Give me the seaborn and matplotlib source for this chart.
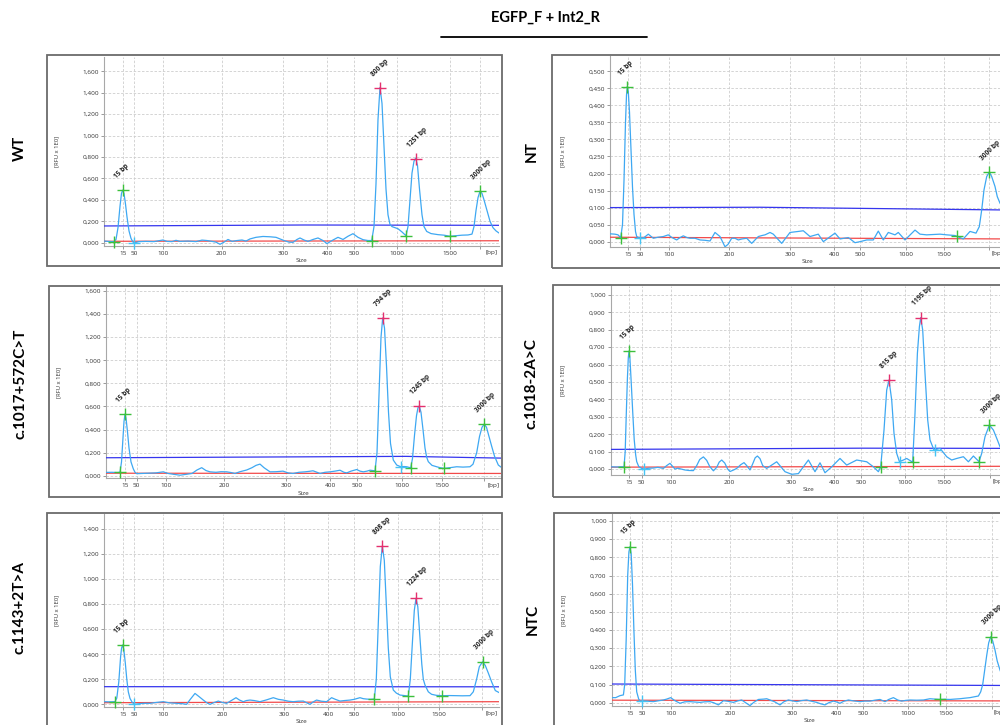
import matplotlib
matplotlib.use("Agg")
import matplotlib.pyplot as plt
import matplotlib.ticker as mticker
from matplotlib.patches import Rectangle
from matplotlib.lines import Line2D
import pandas as pd
import seaborn as sns

sns.set_theme(style="white")
plt.rcParams["font.family"] = ["Open Sans", "DejaVu Sans"]

TITLE = "EGFP_F + Int2_R"
LADDER_LABELS = ["15", "50", "100", "200", "300", "400", "500", "1000", "1500", ""]

# ---------------- WT ----------------
wt_ladder = [18.7, 30.3, 59.3, 117.7, 179, 223, 250, 293, 346, 376]
wt_pos = [0, 4, 8, 10, 12, 14, 16, 17.5, 18.7, 20, 21.5, 23, 25, 27, 29, 31, 35, 42, 50, 56, 59, 63, 68, 72, 76, 84, 92, 98, 103, 108, 112, 116, 120, 124, 128, 133, 138, 142, 146, 152, 159, 166, 172, 180, 185, 189, 193, 196, 200, 204, 209, 214, 219, 223, 228, 234, 239, 244, 249, 254, 259, 264, 267.7, 270, 272, 274, 276, 278, 280, 282, 284, 286, 288, 291, 294, 298, 302, 304, 306, 308, 310, 311.7, 313.5, 315.5, 318, 320, 322.7, 327, 334, 340, 346, 352, 358, 364, 368, 370, 372, 374, 376, 378, 380, 383, 386, 389, 392, 395]
wt_rfu = [0.015, 0.012, 0.01, 0.01, 0.03, 0.14, 0.34, 0.46, 0.49, 0.46, 0.36, 0.24, 0.11, 0.04, 0.005, 0.0, 0.01, 0.012, 0.01, 0.02, 0.025, 0.012, 0.01, 0.022, 0.012, 0.015, 0.01, 0.024, 0.02, 0.012, 0.005, -0.015, 0.005, 0.03, 0.012, 0.02, 0.025, 0.015, 0.035, 0.05, 0.058, 0.055, 0.05, 0.02, 0.005, 0.003, 0.03, 0.044, 0.025, 0.012, 0.03, 0.044, 0.02, -0.009, 0.02, 0.05, 0.03, 0.06, 0.084, 0.05, 0.028, 0.02, 0.02, 0.15, 0.55, 1.15, 1.45, 1.3, 0.9, 0.5, 0.26, 0.17, 0.15, 0.14, 0.13, 0.1, 0.065, 0.15, 0.4, 0.65, 0.76, 0.79, 0.72, 0.5, 0.26, 0.15, 0.105, 0.085, 0.075, 0.07, 0.06, 0.065, 0.07, 0.072, 0.08, 0.15, 0.3, 0.42, 0.48, 0.46, 0.4, 0.3, 0.2, 0.14, 0.11, 0.09]
wt_peak_pos = [18.7, 276, 311.7, 376]
wt_peak_rfu = [0.49, 1.44, 0.78, 0.48]
wt_peak_bp = [15, 800, 1251, 3000]
wt_peak_kind = ["ref", "sample", "sample", "ref"]
wt_edge_pos = [10, 267.7, 302, 346]
wt_edge_rfu = [0.01, 0.02, 0.065, 0.06]
wt_alt_pos = [30.3]
wt_alt_rfu = [0.0]
wt_thr_pos = [0, 200, 395]
wt_thr_rfu = [0.156, 0.165, 0.162]
wt_base_pos = [0, 395]
wt_base_rfu = [0.013, 0.018]

# ---------------- NT ----------------
nt_ladder = [17.7, 30, 59, 119, 180, 224, 250, 296, 334, 379]
nt_pos = [0, 5, 8, 10.7, 12.5, 14, 15.5, 16.5, 17.3, 18.3, 19.5, 21, 22.5, 24, 25.5, 26.7, 30, 34, 38.3, 43.3, 48, 53.3, 58.3, 62, 66.7, 70, 73.3, 77, 80, 85, 90, 95, 100, 105, 110, 115, 118, 121.7, 125, 128.3, 132, 136.7, 141.7, 145, 148.3, 152, 155, 160, 163.3, 171.7, 180, 188.3, 193.3, 200, 208.3, 213.3, 225, 230, 238.3, 245, 250, 256.7, 263.3, 268.3, 273.3, 278.3, 285, 288.3, 295, 305, 310, 316.7, 330, 336.7, 345, 353.3, 360, 366, 369.3, 371.7, 374, 376.7, 379.3, 381.7, 385, 387.3, 390, 393, 396]
nt_rfu = [0.023, 0.022, 0.02, 0.012, 0.05, 0.18, 0.35, 0.43, 0.456, 0.44, 0.38, 0.27, 0.16, 0.08, 0.03, 0.015, 0.01, 0.012, 0.022, 0.01, 0.013, 0.015, 0.02, 0.012, 0.005, 0.012, 0.017, 0.012, 0.01, 0.01, 0.005, 0.004, 0.002, 0.027, 0.015, -0.015, -0.008, 0.01, 0.01, 0.005, 0.008, 0.01, -0.005, 0.005, 0.015, 0.018, 0.02, 0.027, 0.022, -0.005, 0.027, 0.03, 0.032, 0.015, 0.022, 0.0, 0.025, 0.008, 0.012, -0.003, 0.0, 0.005, 0.005, 0.031, 0.005, 0.027, 0.02, 0.027, 0.005, 0.034, 0.022, 0.02, 0.022, 0.02, 0.018, 0.008, 0.03, 0.025, 0.044, 0.093, 0.152, 0.191, 0.204, 0.191, 0.162, 0.132, 0.113, 0.1, 0.09]
nt_peak_pos = [17.3, 379.3]
nt_peak_rfu = [0.453, 0.204]
nt_peak_bp = [15, 3000]
nt_peak_kind = ["ref", "ref"]
nt_edge_pos = [10.7, 346.7]
nt_edge_rfu = [0.012, 0.017]
nt_alt_pos = [30]
nt_alt_rfu = [0.01]
nt_thr_pos = [0, 150, 395]
nt_thr_rfu = [0.1, 0.101, 0.093]
nt_base_pos = [0, 395]
nt_base_rfu = [0.013, 0.008]

# ---------------- c.1017+572C>T ----------------
m1_ladder = [19, 30.7, 59.7, 118, 180, 224, 250.7, 295.7, 335.7, 378.3]
m1_pos = [0, 6, 11, 14, 15.5, 17, 18, 19, 20, 21.5, 23, 25, 27.3, 29, 30.7, 36, 42, 50, 57.3, 62, 68, 74, 80, 86, 91, 95.7, 100, 104, 110, 115, 120.7, 125, 129, 134, 140.7, 146, 150, 154, 158, 164, 170, 177, 182, 187, 193, 199, 203, 207, 211, 214, 219, 224, 229, 234, 238, 240.7, 245, 250.7, 254, 257.3, 261, 264, 269, 271, 273, 275, 276.7, 278.5, 280.5, 282.5, 284.5, 287.3, 290.7, 294.7, 298, 300.7, 304.7, 306.5, 308.5, 310.5, 312, 313.3, 315, 317, 319, 320.7, 322.3, 326, 330.7, 334, 338, 344, 350.7, 357, 364, 367, 370.7, 373.5, 376, 378.3, 380.5, 383, 385.7, 388.5, 392.3, 395]
m1_rfu = [0.029, 0.03, 0.028, 0.03, 0.12, 0.33, 0.47, 0.534, 0.5, 0.38, 0.24, 0.12, 0.06, 0.03, 0.018, 0.02, 0.022, 0.025, 0.034, 0.02, 0.012, 0.005, 0.012, 0.02, 0.05, 0.07, 0.045, 0.034, 0.03, 0.035, 0.034, 0.028, 0.02, 0.035, 0.05, 0.07, 0.09, 0.101, 0.07, 0.034, 0.035, 0.04, 0.025, 0.02, 0.03, 0.034, 0.038, 0.043, 0.03, 0.02, 0.03, 0.034, 0.04, 0.048, 0.03, 0.025, 0.04, 0.054, 0.04, 0.034, 0.04, 0.048, 0.043, 0.2, 0.7, 1.2, 1.367, 1.28, 0.95, 0.55, 0.28, 0.136, 0.093, 0.078, 0.08, 0.078, 0.069, 0.15, 0.35, 0.52, 0.59, 0.603, 0.55, 0.4, 0.24, 0.16, 0.122, 0.09, 0.078, 0.07, 0.064, 0.07, 0.078, 0.075, 0.078, 0.1, 0.2, 0.34, 0.42, 0.447, 0.42, 0.34, 0.255, 0.17, 0.093, 0.075]
m1_peak_pos = [19, 276.7, 313.3, 378.3]
m1_peak_rfu = [0.534, 1.367, 0.603, 0.447]
m1_peak_bp = [15, 794, 1245, 3000]
m1_peak_kind = ["ref", "sample", "sample", "ref"]
m1_edge_pos = [14, 269, 304.7, 338]
m1_edge_rfu = [0.03, 0.043, 0.069, 0.064]
m1_alt_pos = [294.7]
m1_alt_rfu = [0.078]
m1_thr_pos = [0, 300, 395]
m1_thr_rfu = [0.156, 0.168, 0.153]
m1_base_pos = [0, 395]
m1_base_rfu = [0.022, 0.02]

# ---------------- c.1018-2A>C ----------------
m2_ladder = [18.3, 31, 60, 118.3, 180.3, 223.3, 250.3, 294.3, 333.6, 379.3]
m2_pos = [0, 6, 10, 13.3, 14.5, 15.5, 16.7, 17.6, 18.3, 19.2, 20.5, 22, 23.5, 25, 26, 28, 31, 33.7, 38, 42.7, 47, 52.7, 56, 59.3, 62, 64.3, 67, 69.3, 74, 78, 82.7, 86, 89, 92.7, 96, 99, 102.7, 106, 108.5, 111, 114, 117, 119.3, 123, 126, 130, 133.3, 136, 139.3, 142, 144.5, 146.7, 149.3, 152, 156, 166, 174.3, 181, 187.7, 197.7, 204.3, 209.3, 214.3, 221, 229.3, 236, 246, 256, 262.7, 267.7, 270, 273.3, 276, 278.3, 281, 283.3, 286, 288.7, 292.7, 296, 301, 302, 304.3, 306.7, 308.7, 310, 312, 314.3, 317, 319.3, 323.3, 329.3, 336, 341, 346, 352.7, 357.7, 362.7, 368.3, 371, 374.3, 378.7, 382.7, 386.7, 389.3, 393, 396]
m2_rfu = [0.013, 0.012, 0.013, 0.013, 0.1, 0.3, 0.52, 0.64, 0.678, 0.64, 0.5, 0.33, 0.17, 0.08, 0.043, 0.015, 0.004, 0.0, 0.005, 0.006, 0.01, 0.004, 0.02, 0.033, 0.015, 0.0, 0.005, 0.002, -0.005, -0.008, -0.009, 0.02, 0.055, 0.07, 0.05, 0.015, -0.01, 0.01, 0.04, 0.052, 0.035, 0.0, -0.014, -0.005, 0.004, 0.025, 0.037, 0.02, -0.005, 0.03, 0.065, 0.075, 0.06, 0.02, 0.004, 0.042, -0.015, -0.03, -0.026, 0.052, -0.015, 0.036, -0.021, 0.013, 0.061, 0.023, 0.052, 0.042, 0.013, -0.015, 0.013, 0.224, 0.454, 0.511, 0.397, 0.205, 0.09, 0.043, 0.052, 0.061, 0.043, 0.043, 0.32, 0.665, 0.818, 0.87, 0.799, 0.55, 0.282, 0.167, 0.109, 0.119, 0.071, 0.052, 0.061, 0.071, 0.042, 0.075, 0.043, 0.09, 0.186, 0.253, 0.224, 0.167, 0.128, 0.1, 0.085]
m2_peak_pos = [18.3, 278.3, 310, 378.7]
m2_peak_rfu = [0.678, 0.511, 0.87, 0.253]
m2_peak_bp = [15, 815, 1195, 3000]
m2_peak_kind = ["ref", "sample", "sample", "ref"]
m2_edge_pos = [13.3, 270, 302, 368.3]
m2_edge_rfu = [0.013, 0.013, 0.043, 0.043]
m2_alt_pos = [33.7, 289.3, 324.3]
m2_alt_rfu = [0.0, 0.043, 0.109]
m2_thr_pos = [0, 250, 395]
m2_thr_rfu = [0.113, 0.12, 0.119]
m2_base_pos = [0, 395]
m2_base_rfu = [0.011, 0.016]

# ---------------- c.1143+2T>A ----------------
m3_ladder = [18.4, 30, 59, 118.4, 180, 224, 250, 294, 335, 378]
m3_pos = [0, 5, 10.7, 12.5, 14.5, 16.3, 17.3, 18.3, 19.5, 21, 22.5, 24, 25.7, 28, 30.7, 35, 40, 45.7, 52, 59, 65, 72.3, 78, 82.3, 86, 90.7, 95, 99, 103, 105.7, 110, 114, 118, 122.3, 127, 131.7, 135, 139, 142, 145.7, 150, 155.7, 162, 169, 174, 179, 184, 189, 194, 199, 203, 205.7, 209, 212.3, 217, 222.3, 227.3, 231, 235.7, 240, 245.7, 250, 255.7, 259, 262.3, 266, 270, 272, 274, 276, 278, 280, 282, 284, 286, 289, 292, 295.7, 300, 304, 306, 308, 310, 311.7, 313.5, 315.5, 317.5, 319, 320.7, 324, 327.3, 332, 338, 345, 352.3, 358, 365.7, 369, 372.3, 375, 378.3, 381, 384, 387.3, 391, 395.7]
m3_rfu = [0.021, 0.02, 0.021, 0.05, 0.18, 0.38, 0.45, 0.474, 0.44, 0.33, 0.2, 0.1, 0.047, 0.015, 0.0, 0.005, 0.008, 0.008, 0.015, 0.021, 0.012, 0.008, 0.005, 0.0, 0.04, 0.087, 0.06, 0.034, 0.01, 0.0, 0.015, 0.026, 0.015, 0.008, 0.03, 0.053, 0.035, 0.021, 0.03, 0.034, 0.03, 0.021, 0.035, 0.053, 0.04, 0.034, 0.025, 0.021, 0.025, 0.026, 0.01, 0.0, 0.02, 0.034, 0.025, 0.021, 0.053, 0.04, 0.026, 0.03, 0.034, 0.04, 0.053, 0.045, 0.042, 0.04, 0.042, 0.2, 0.65, 1.1, 1.264, 1.15, 0.8, 0.45, 0.22, 0.114, 0.09, 0.074, 0.07, 0.066, 0.2, 0.48, 0.75, 0.847, 0.78, 0.55, 0.32, 0.2, 0.154, 0.1, 0.08, 0.072, 0.069, 0.07, 0.069, 0.068, 0.069, 0.1, 0.2, 0.3, 0.34, 0.31, 0.25, 0.18, 0.11, 0.09]
m3_peak_pos = [18.3, 278, 311.7, 378.3]
m3_peak_rfu = [0.474, 1.264, 0.847, 0.34]
m3_peak_bp = [15, 808, 1224, 3000]
m3_peak_kind = ["ref", "sample", "sample", "ref"]
m3_edge_pos = [10.7, 270, 304, 338]
m3_edge_rfu = [0.021, 0.042, 0.066, 0.069]
m3_alt_pos = [30]
m3_alt_rfu = [0.0]
m3_thr_pos = [0, 395]
m3_thr_rfu = [0.141, 0.14]
m3_base_pos = [0, 395]
m3_base_rfu = [0.013, 0.021]

# ---------------- NTC ----------------
ntc_ladder = [18.3, 30.6, 59.3, 118.3, 180.6, 225, 251, 296.6, 334, 380]
ntc_pos = [0, 4, 8.3, 11.7, 13, 14.5, 16, 17.2, 18.3, 19.5, 20.8, 22.2, 23.6, 25, 27, 29, 30.7, 36, 41.7, 46, 51.7, 55, 59, 63, 68.3, 73, 78.3, 83, 88.3, 93, 98.3, 102, 106.7, 111.7, 116, 121.7, 126, 130, 134, 138.3, 142, 146.7, 152, 155, 158.3, 163, 168.3, 172, 176.7, 181, 185, 190, 195, 200, 205, 209, 213.3, 217, 221.7, 225, 228.3, 232, 236.7, 242, 248.3, 253, 258.3, 263, 268.3, 273.3, 277, 281.7, 286, 290, 294, 298.3, 305, 311.7, 318.3, 323, 328.3, 333, 338.3, 343, 348.3, 353, 358.3, 362, 366.7, 369, 371, 373, 375, 377, 379, 381, 383.3, 385.5, 388.3, 391, 394, 397]
ntc_rfu = [0.028, 0.028, 0.039, 0.043, 0.1, 0.35, 0.7, 0.83, 0.859, 0.82, 0.65, 0.4, 0.18, 0.06, 0.02, 0.006, 0.01, 0.008, 0.006, 0.01, 0.015, 0.02, 0.028, 0.012, -0.003, 0.005, 0.006, 0.004, 0.002, 0.005, 0.006, 0.0, -0.012, 0.011, 0.008, 0.002, 0.01, 0.015, 0.0, -0.016, 0.002, 0.018, 0.02, 0.022, 0.015, 0.005, -0.012, 0.005, 0.015, 0.01, 0.006, 0.012, 0.015, 0.008, 0.002, -0.006, -0.012, 0.0, 0.009, 0.004, -0.003, 0.008, 0.015, 0.01, 0.006, 0.009, 0.009, 0.014, 0.018, 0.006, 0.018, 0.028, 0.015, 0.009, 0.013, 0.015, 0.014, 0.015, 0.022, 0.02, 0.018, 0.019, 0.018, 0.02, 0.022, 0.025, 0.028, 0.032, 0.037, 0.06, 0.1, 0.18, 0.26, 0.33, 0.363, 0.34, 0.29, 0.23, 0.18, 0.14, 0.11, 0.09]
ntc_peak_pos = [18.3, 379]
ntc_peak_rfu = [0.859, 0.363]
ntc_peak_bp = [15, 3000]
ntc_peak_kind = ["ref", "ref"]
ntc_edge_pos = [328.3]
ntc_edge_rfu = [0.018]
ntc_alt_pos = [30.7]
ntc_alt_rfu = [0.01]
ntc_thr_pos = [0, 395]
ntc_thr_rfu = [0.103, 0.095]
ntc_base_pos = [0, 395]
ntc_base_rfu = [0.014, 0.01]

SAMPLES = {
    "WT": dict(ladder=wt_ladder, pos=wt_pos, rfu=wt_rfu, peak_pos=wt_peak_pos, peak_rfu=wt_peak_rfu,
               peak_bp=wt_peak_bp, peak_kind=wt_peak_kind, edge_pos=wt_edge_pos, edge_rfu=wt_edge_rfu,
               alt_pos=wt_alt_pos, alt_rfu=wt_alt_rfu, thr_pos=wt_thr_pos, thr_rfu=wt_thr_rfu,
               base_pos=wt_base_pos, base_rfu=wt_base_rfu, ymax=1.6, ystep=0.2),
    "NT": dict(ladder=nt_ladder, pos=nt_pos, rfu=nt_rfu, peak_pos=nt_peak_pos, peak_rfu=nt_peak_rfu,
               peak_bp=nt_peak_bp, peak_kind=nt_peak_kind, edge_pos=nt_edge_pos, edge_rfu=nt_edge_rfu,
               alt_pos=nt_alt_pos, alt_rfu=nt_alt_rfu, thr_pos=nt_thr_pos, thr_rfu=nt_thr_rfu,
               base_pos=nt_base_pos, base_rfu=nt_base_rfu, ymax=0.5, ystep=0.05),
    "c.1017+572C>T": dict(ladder=m1_ladder, pos=m1_pos, rfu=m1_rfu, peak_pos=m1_peak_pos, peak_rfu=m1_peak_rfu,
               peak_bp=m1_peak_bp, peak_kind=m1_peak_kind, edge_pos=m1_edge_pos, edge_rfu=m1_edge_rfu,
               alt_pos=m1_alt_pos, alt_rfu=m1_alt_rfu, thr_pos=m1_thr_pos, thr_rfu=m1_thr_rfu,
               base_pos=m1_base_pos, base_rfu=m1_base_rfu, ymax=1.6, ystep=0.2),
    "c.1018-2A>C": dict(ladder=m2_ladder, pos=m2_pos, rfu=m2_rfu, peak_pos=m2_peak_pos, peak_rfu=m2_peak_rfu,
               peak_bp=m2_peak_bp, peak_kind=m2_peak_kind, edge_pos=m2_edge_pos, edge_rfu=m2_edge_rfu,
               alt_pos=m2_alt_pos, alt_rfu=m2_alt_rfu, thr_pos=m2_thr_pos, thr_rfu=m2_thr_rfu,
               base_pos=m2_base_pos, base_rfu=m2_base_rfu, ymax=1.0, ystep=0.1),
    "c.1143+2T>A": dict(ladder=m3_ladder, pos=m3_pos, rfu=m3_rfu, peak_pos=m3_peak_pos, peak_rfu=m3_peak_rfu,
               peak_bp=m3_peak_bp, peak_kind=m3_peak_kind, edge_pos=m3_edge_pos, edge_rfu=m3_edge_rfu,
               alt_pos=m3_alt_pos, alt_rfu=m3_alt_rfu, thr_pos=m3_thr_pos, thr_rfu=m3_thr_rfu,
               base_pos=m3_base_pos, base_rfu=m3_base_rfu, ymax=1.4, ystep=0.2),
    "NTC": dict(ladder=ntc_ladder, pos=ntc_pos, rfu=ntc_rfu, peak_pos=ntc_peak_pos, peak_rfu=ntc_peak_rfu,
               peak_bp=ntc_peak_bp, peak_kind=ntc_peak_kind, edge_pos=ntc_edge_pos, edge_rfu=ntc_edge_rfu,
               alt_pos=ntc_alt_pos, alt_rfu=ntc_alt_rfu, thr_pos=ntc_thr_pos, thr_rfu=ntc_thr_rfu,
               base_pos=ntc_base_pos, base_rfu=ntc_base_rfu, ymax=1.0, ystep=0.1),
}

# Page layout in pixels: plot area (l, t, r, b), frame (l, t, r, b), y-limits, sample label centre
W, H = 1000, 725
LAYOUT = {
    "WT":            dict(ax=(104, 57, 499, 246),   box=(47, 55, 502, 266),   ylim=(-0.031, 1.733), lab=(20, 148)),
    "NT":            dict(ax=(610, 56, 1005, 246.7), box=(552, 55, 1012, 268), ylim=(-0.0148, 0.545), lab=(532, 152)),
    "c.1017+572C>T": dict(ax=(106, 287, 501, 478.3), box=(49, 286, 502, 497),  ylim=(-0.022, 1.635), lab=(21, 384)),
    "c.1018-2A>C":   dict(ax=(610.7, 285.7, 1005.7, 475), box=(553, 285, 1012, 497), ylim=(-0.034, 1.053), lab=(532, 384)),
    "c.1143+2T>A":   dict(ax=(104.3, 514.3, 499.3, 706.7), box=(47, 513, 502, 745), ylim=(-0.019, 1.518), lab=(20, 608)),
    "NTC":           dict(ax=(611.7, 514.3, 1006.7, 706), box=(554, 513, 1012, 745), ylim=(-0.018, 1.037), lab=(533, 619)),
}

TRACE = "#3ea8f2"
THRESH = "#3535ee"
BASE = "#f24a4a"
MARK = {"ref": "#3cc03c", "sample": "#e4306e", "edge": "#3cc03c", "alt": "#46c4f4"}
GRID = "#cdcdcd"
TXT = "#333333"


def comma_fmt(v, _):
    return f"{v:.3f}".replace(".", ",")


def draw_panel(fig, name, d, lay):
    l, t, r, b = lay["ax"]
    ax = fig.add_axes([l / W, 1 - b / H, (r - l) / W, (b - t) / H])
    ax.set_xlim(0, 395)
    ax.set_ylim(*lay["ylim"])
    ax.set_axisbelow(True)

    n = int(round(d["ymax"] / d["ystep"]))
    ax.set_yticks([i * d["ystep"] for i in range(n + 1)])
    ax.yaxis.set_major_formatter(mticker.FuncFormatter(comma_fmt))
    ax.set_xticks(d["ladder"])
    ax.set_xticklabels(LADDER_LABELS)
    ax.grid(True, color=GRID, linestyle=(0, (3, 2)), linewidth=0.6)

    for s in ("top", "right"):
        ax.spines[s].set_visible(False)
    for s in ("left", "bottom"):
        ax.spines[s].set_color("#a8a8a8")
        ax.spines[s].set_linewidth(0.8)
    ax.tick_params(axis="both", which="both", bottom=True, left=True, labelsize=4.6,
                   labelcolor=TXT, color="#8a8a8a", length=2.5, width=0.6, pad=1.2)

    # baseline and detection threshold
    ax.plot(d["base_pos"], d["base_rfu"], color=BASE, lw=0.9, zorder=3)
    ax.plot(d["thr_pos"], d["thr_rfu"], color=THRESH, lw=0.9, zorder=3)

    trace = pd.DataFrame({"pos": d["pos"], "rfu": d["rfu"]})
    sns.lineplot(data=trace, x="pos", y="rfu", ax=ax, color=TRACE, linewidth=0.9,
                 estimator=None, sort=False, zorder=4)

    ax.set_ylabel("[RFU x 1E0]", fontsize=4.2, color=TXT)
    ax.yaxis.set_label_coords(-45 / (r - l), 0.5)
    ax.set_xlabel("Size", fontsize=4.6, color=TXT, labelpad=1.5)
    ax.annotate("[bp]", xy=(1, 0), xycoords="axes fraction", xytext=(-1, -3.2),
                textcoords="offset points", ha="right", va="top", fontsize=4.6, color=TXT)

    ax.plot(d["edge_pos"], d["edge_rfu"], ls="none", marker="+", ms=8.5, mew=1.0,
            color=MARK["edge"], zorder=6, clip_on=False)
    ax.plot(d["alt_pos"], d["alt_rfu"], ls="none", marker="+", ms=8.5, mew=1.0,
            color=MARK["alt"], zorder=6, clip_on=False)
    for x, y, bp, kind in zip(d["peak_pos"], d["peak_rfu"], d["peak_bp"], d["peak_kind"]):
        ax.plot([x], [y], ls="none", marker="+", ms=8.5, mew=1.0, color=MARK[kind], zorder=7)
        ax.annotate(f"{bp} bp", xy=(x, y), xytext=(-3.5, 7.5), textcoords="offset points",
                    rotation=45, rotation_mode="anchor", ha="left", va="bottom",
                    fontsize=4.8, fontweight="bold", color="#222222", annotation_clip=False)

    bl, bt, br, bb = lay["box"]
    fig.add_artist(Rectangle((bl / W, 1 - bb / H), (br - bl) / W, (bb - bt) / H,
                             transform=fig.transFigure, fill=False, edgecolor="#6b6b6b",
                             linewidth=1.3, zorder=10))
    lx, ly = lay["lab"]
    fig.text(lx / W, 1 - ly / H, name, rotation=90, ha="center", va="center",
             fontsize=11, fontweight="bold", color="black", family=["Lato", "DejaVu Sans"])


fig = plt.figure(figsize=(10, 7.25), dpi=100)
fig.patch.set_facecolor("white")

for name, d in SAMPLES.items():
    draw_panel(fig, name, d, LAYOUT[name])

fig.text(0.545, 1 - 18 / H, TITLE, ha="center", va="center", fontsize=10.5, fontweight="bold",
         color="black", family=["Lato", "DejaVu Sans"])
fig.add_artist(Line2D([441 / W, 647 / W], [1 - 37 / H, 1 - 37 / H], transform=fig.transFigure,
                      color="black", linewidth=1.3))

fig.savefig("out.png", dpi=100, facecolor="white")
